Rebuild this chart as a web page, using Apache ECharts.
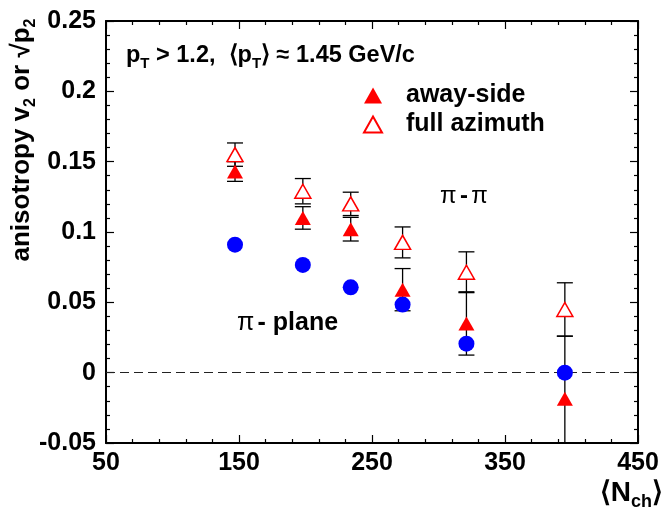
<!DOCTYPE html>
<html>
<head>
<meta charset="utf-8">
<script src="https://cdn.jsdelivr.net/npm/echarts@6/dist/echarts.min.js"></script>
<style>
  html, body { margin: 0; padding: 0; background: #fff; }
  #chart { width: 669px; height: 508px; }
</style>
</head>
<body>
<div id="chart"></div>
<script>
// Mean charged multiplicity of each centrality bin
const nch = [147, 198, 234, 273, 321, 395];

// pi-pi correlations, away-side only
const awaySide = [0.143, 0.110, 0.102, 0.059, 0.035, -0.0185];
const awaySideErr = [0.007, 0.008, 0.0084, 0.015, 0.0225, 0.0445];

// pi-pi correlations, full azimuth
const fullAzimuth = [0.155, 0.129, 0.120, 0.0926, 0.0714, 0.0449];
const fullAzimuthErr = [0.0083, 0.009, 0.0083, 0.011, 0.0145, 0.019];

// pi-plane v2
const plane = [0.091, 0.0766, 0.0607, 0.0484, 0.0206, 0.0];

// Axis tick labels
const xTickLabels = ['50', '150', '250', '350', '450'];
const yTickLabels = ['-0.05', '0', '0.05', '0.1', '0.15', '0.2', '0.25'];

const FONT = '"Liberation Sans", Arial, Helvetica, sans-serif';
const X_MIN = 50, X_MAX = 450, X_STEP = 100;
const Y_MIN = -0.05, Y_MAX = 0.25, Y_STEP = 0.05;

function xLabel(v) {
  const i = Math.round((v - X_MIN) / X_STEP);
  return xTickLabels[i] !== undefined ? xTickLabels[i] : '';
}
function yLabel(v) {
  const i = Math.round((v - Y_MIN) / Y_STEP);
  return yTickLabels[i] !== undefined ? yTickLabels[i] : '';
}

// Vertical error bar with end caps
function errorBars(name, values, errors) {
  return {
    type: 'custom',
    name: name,
    clip: true,
    silent: true,
    z: 2,
    encode: { x: 0, y: [1, 2] },
    data: nch.map((x, i) => [x, values[i] - errors[i], values[i] + errors[i]]),
    renderItem(params, api) {
      const x = api.value(0);
      const lo = api.coord([x, api.value(1)]);
      const hi = api.coord([x, api.value(2)]);
      const hw = 8;
      const style = { stroke: '#000', lineWidth: 1.3 };
      return {
        type: 'group',
        children: [
          { type: 'line', shape: { x1: lo[0], y1: lo[1], x2: hi[0], y2: hi[1] }, style },
          { type: 'line', shape: { x1: lo[0] - hw, y1: lo[1], x2: lo[0] + hw, y2: lo[1] }, style },
          { type: 'line', shape: { x1: hi[0] - hw, y1: hi[1], x2: hi[0] + hw, y2: hi[1] }, style }
        ]
      };
    }
  };
}

function frameAxis(kind, position, showLabels) {
  const isX = kind === 'x';
  return {
    type: 'value',
    position: position,
    min: isX ? X_MIN : Y_MIN,
    max: isX ? X_MAX : Y_MAX,
    interval: isX ? X_STEP : Y_STEP,
    axisLine: { show: true, onZero: false, lineStyle: { color: '#000', width: 2 } },
    axisTick: { show: true, inside: true, length: 8, lineStyle: { color: '#000', width: 1.2 } },
    minorTick: { show: true, splitNumber: 5, length: 4, lineStyle: { color: '#000', width: 1.2 } },
    splitLine: { show: false },
    minorSplitLine: { show: false },
    axisLabel: {
      show: showLabels,
      formatter: isX ? xLabel : yLabel,
      fontFamily: FONT,
      fontWeight: 'bold',
      fontSize: 25,
      color: '#000',
      margin: isX ? 8 : 10,
      showMinLabel: true,
      showMaxLabel: true
    }
  };
}

const rich = (size, sub) => ({
  b: { fontFamily: FONT, fontWeight: 'bold', fontSize: size, lineHeight: size + 8, verticalAlign: 'middle', color: '#000' },
  s: { fontFamily: FONT, fontWeight: 'bold', fontSize: sub, lineHeight: sub, verticalAlign: 'bottom', color: '#000' },
  p: { fontFamily: FONT, fontSize: size, color: '#000' }
});

const chart = echarts.init(document.getElementById('chart'), null, { renderer: 'canvas' });

chart.setOption({
  animation: false,
  backgroundColor: '#fff',
  grid: { left: 106, right: 31, top: 21, bottom: 65, containLabel: false },
  xAxis: [frameAxis('x', 'bottom', true), frameAxis('x', 'top', false)],
  yAxis: [frameAxis('y', 'left', true), frameAxis('y', 'right', false)],
  legend: {
    orient: 'vertical',
    left: 358,
    top: 78,
    itemWidth: 18,
    itemHeight: 16,
    itemGap: 4,
    data: ['away-side', 'full azimuth'],
    textStyle: {
      fontFamily: FONT,
      fontWeight: 'bold',
      fontSize: 25,
      color: '#000',
      lineHeight: 22,
      padding: [0, 0, 0, 19]
    }
  },
  series: [
    errorBars('away-side err', awaySide, awaySideErr),
    errorBars('full azimuth err', fullAzimuth, fullAzimuthErr),
    {
      type: 'scatter',
      name: 'pi-plane',
      z: 4,
      symbol: 'circle',
      symbolSize: 16,
      itemStyle: { color: '#0000ff', opacity: 1 },
      data: nch.map((x, i) => [x, plane[i]]),
      markLine: {
        silent: true,
        symbol: 'none',
        label: { show: false },
        lineStyle: { color: '#222', width: 1, type: [9, 5] },
        data: [{ yAxis: 0 }],
        z: 1
      }
    },
    {
      type: 'scatter',
      name: 'away-side',
      z: 5,
      symbol: 'triangle',
      symbolSize: [16, 14],
      itemStyle: { color: '#ff0000', opacity: 1 },
      data: nch.map((x, i) => [x, awaySide[i]])
    },
    {
      type: 'scatter',
      name: 'full azimuth',
      z: 5,
      symbol: 'triangle',
      symbolSize: [16, 14],
      itemStyle: { color: '#ffffff', borderColor: '#ff0000', borderWidth: 1.5, opacity: 1 },
      data: nch.map((x, i) => [x, fullAzimuth[i]])
    }
  ],
  graphic: [
    {
      type: 'text',
      x: 126, y: 56,
      style: {
        text: '{b|p}{s|T}{b| > 1.2,  \u27E8p}{s|T}{b|\u27E9 \u2248 1.45 GeV/c}',
        verticalAlign: 'middle',
        align: 'left',
        rich: rich(23.5, 15)
      }
    },
    {
      type: 'text',
      x: 440, y: 196,
      style: {
        text: '{p|\u03C0} {b|-} {p|\u03C0}',
        verticalAlign: 'middle',
        rich: rich(24, 15)
      }
    },
    {
      type: 'text',
      x: 237, y: 323,
      style: {
        text: '{p|\u03C0} {b|- plane}',
        verticalAlign: 'middle',
        rich: rich(25, 15)
      }
    },
    {
      type: 'text',
      x: 22, y: 140,
      rotation: Math.PI / 2,
      style: {
        text: '{b|anisotropy v}{s|2}{b| or \u221Ap}{s|2}',
        align: 'center',
        verticalAlign: 'middle',
        rich: rich(26, 16)
      }
    },
    {
      type: 'text',
      x: 663, y: 493,
      style: {
        text: '{b|\u27E8N}{s|ch}{b|\u27E9}',
        align: 'right',
        verticalAlign: 'middle',
        rich: rich(28, 18)
      }
    }
  ]
});
</script>
</body>
</html>
